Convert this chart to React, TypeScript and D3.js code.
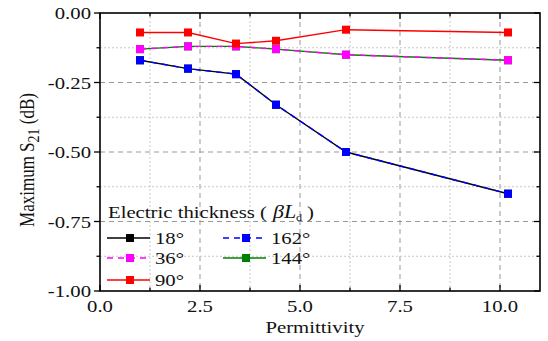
import React from 'react';
import * as d3 from 'd3';

const permittivity = [1.0, 2.2, 3.4, 4.4, 6.15, 10.2];
const s18 = [-0.17, -0.2, -0.22, -0.33, -0.5, -0.65];
const s36 = [-0.13, -0.12, -0.12, -0.13, -0.15, -0.17];
const s90 = [-0.07, -0.07, -0.11, -0.1, -0.06, -0.07];
const s144 = [-0.13, -0.12, -0.12, -0.13, -0.15, -0.17];
const s162 = [-0.17, -0.2, -0.22, -0.33, -0.5, -0.65];

const xTicks = [0, 2.5, 5, 7.5, 10];
const yTicks = [0, -0.25, -0.5, -0.75, -1];

// draw order: solid first, dashed overlays on top
const series = [
  { label: '18°', values: s18, color: '#000000', dash: undefined },
  { label: '144°', values: s144, color: '#008000', dash: undefined },
  { label: '162°', values: s162, color: '#0000ff', dash: '6,5' },
  { label: '36°', values: s36, color: '#ff00ff', dash: '6,5' },
  { label: '90°', values: s90, color: '#ff0000', dash: undefined },
];

const legend = [
  { label: '18°', color: '#000000', dash: undefined, cx: 107, cy: 238 },
  { label: '36°', color: '#ff00ff', dash: '6,5', cx: 107, cy: 258 },
  { label: '90°', color: '#ff0000', dash: undefined, cx: 107, cy: 280 },
  { label: '162°', color: '#0000ff', dash: '6,5', cx: 223, cy: 238 },
  { label: '144°', color: '#008000', dash: undefined, cx: 223, cy: 258 },
];

const FONT = { fontFamily: 'Liberation Serif' };
const STRETCH = 1.22;

const left = 100, right = 540, top = 13, bottom = 291;
const x = d3.scaleLinear().domain([0, 11]).range([left, right]);
const y = d3.scaleLinear().domain([-1, 0]).range([bottom, top]);
const line = d3.line<number>().x((_, i) => x(permittivity[i])).y((d) => y(d));

// text stretched horizontally like the reference
function T({ tx, ty, anchor = 'start', size = 17, children }: any) {
  return (
    <text transform={`translate(${tx},${ty}) scale(${STRETCH},1)`} textAnchor={anchor}
      fontSize={size} fill="#111" style={FONT}>{children}</text>
  );
}

export default function App() {
  const minorX = d3.range(1.25, 11, 2.5);
  const minorY = d3.range(-0.125, -1, -0.25);
  const tickX = d3.range(0, 10.01, 1.25);
  const tickY = d3.range(0, -1.001, -0.125);
  const isMajor = (v: number, step: number) => Math.abs(v / step - Math.round(v / step)) < 0.01;

  return (
    <svg width={548} height={341} style={{ position: 'absolute', left: 0, top: 0, background: '#fff' }}>
      {/* Grid */}
      {minorX.map((v) => (
        <line key={'mx' + v} x1={x(v)} x2={x(v)} y1={top} y2={bottom} stroke="#c8c8c8" strokeDasharray="2,2" />
      ))}
      {xTicks.slice(1).map((v) => (
        <line key={'gx' + v} x1={x(v)} x2={x(v)} y1={top} y2={bottom} stroke="#999" strokeDasharray="5,4" />
      ))}
      {minorY.map((v) => (
        <line key={'my' + v} x1={left} x2={right} y1={y(v)} y2={y(v)} stroke="#c8c8c8" strokeDasharray="2,2" />
      ))}
      {yTicks.slice(1, 4).map((v) => (
        <line key={'gy' + v} x1={left} x2={right} y1={y(v)} y2={y(v)} stroke="#999" strokeDasharray="5,4" />
      ))}

      {/* Ticks (inward, mirrored) */}
      <g stroke="#000" strokeWidth={1.3}>
        {tickX.map((v) => {
          const len = isMajor(v, 2.5) ? 6 : 3.5;
          return (
            <g key={'tx' + v}>
              <line x1={x(v)} x2={x(v)} y1={bottom} y2={bottom - len} />
              <line x1={x(v)} x2={x(v)} y1={top} y2={top + len} />
            </g>
          );
        })}
        {tickY.map((v) => {
          const len = isMajor(v, 0.25) ? 6 : 3.5;
          return (
            <g key={'ty' + v}>
              <line x1={left} x2={left - len} y1={y(v)} y2={y(v)} />
              <line x1={right} x2={right - len} y1={y(v)} y2={y(v)} />
            </g>
          );
        })}
      </g>

      {/* Series */}
      {series.map((s) => (
        <g key={s.label}>
          <path d={line(s.values) ?? ''} fill="none" stroke={s.color} strokeWidth={1.4} strokeDasharray={s.dash} />
          {s.values.map((d, i) => (
            <rect key={i} x={x(permittivity[i]) - 4} y={y(d) - 4} width={8} height={8} fill={s.color} />
          ))}
        </g>
      ))}

      {/* Frame */}
      <rect x={left} y={top} width={right - left} height={bottom - top} fill="none" stroke="#000" strokeWidth={1.6} />

      {/* Tick labels */}
      {xTicks.map((v) => (
        <T key={'lx' + v} tx={x(v)} ty={312} anchor="middle">{v.toFixed(1)}</T>
      ))}
      {yTicks.map((v) => (
        <T key={'ly' + v} tx={91} ty={y(v) + 6} anchor="end">{v === 0 ? '0.00' : v.toFixed(2)}</T>
      ))}

      {/* Axis titles */}
      <T tx={315} ty={333} anchor="middle">Permittivity</T>
      <text transform="translate(34,160) rotate(-90) scale(1,1.2)" textAnchor="middle" fontSize={17} fill="#111" style={FONT}>
        <tspan>Maximum S</tspan>
        <tspan dy={4} fontSize={14}>21</tspan>
        <tspan dy={-4}> (dB)</tspan>
      </text>

      {/* Legend */}
      <T tx={108} ty={218} size={17}>
        <tspan>Electric thickness (</tspan>
        <tspan dx={5} fontStyle="italic" fontSize={18}>βL</tspan>
        <tspan dy={3} fontSize={10}>d</tspan>
        <tspan dy={-3} dx={4}>)</tspan>
      </T>
      {legend.map((l) => (
        <g key={'lg' + l.label}>
          <line x1={l.cx} x2={l.cx + 43} y1={l.cy} y2={l.cy} stroke={l.color} strokeWidth={1.4} strokeDasharray={l.dash} />
          <rect x={l.cx + 19} y={l.cy - 4} width={8} height={8} fill={l.color} />
          <T tx={l.cx + 48} ty={l.cy + 6}>{l.label}</T>
        </g>
      ))}
    </svg>
  );
}
